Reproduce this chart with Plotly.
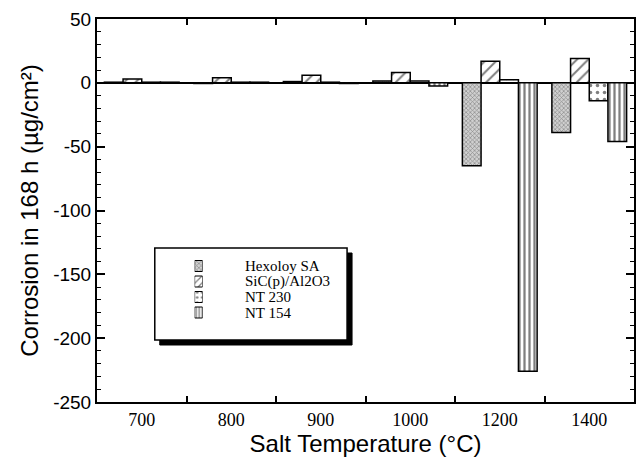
import plotly.graph_objects as go

# Salt temperatures (categories) and corrosion after 168 h (µg/cm²)
temperatures = ["700", "800", "900", "1000", "1200", "1400"]
hexoloy_sa = [0.5, -0.5, 1.0, 1.5, -65, -39]
sic_al2o3 = [3, 4, 6, 8, 17, 19]
nt_230 = [0.5, 0.5, 0.5, 1.5, 2.5, -14]
nt_154 = [0.5, 0.5, -0.5, -2.5, -226, -46]

series_names = ["Hexoloy SA", "SiC(p)/Al2O3", "NT 230", "NT 154"]
series_values = [hexoloy_sa, sic_al2o3, nt_230, nt_154]

y_ticks = [50, 0, -50, -100, -150, -200, -250]
y_tick_text = ["50", "0", "-50", "-100", "-150", "-200", "-250"]

W, H = 638, 459
L, R, T, B = 97, 636, 19, 402  # plot box in pixels

patterns = [
    dict(shape="x", size=3, solidity=0.4, fgcolor="#444444", bgcolor="#d0d0d0"),
    dict(shape="/", size=8, solidity=0.25, fgcolor="black", bgcolor="white"),
    dict(shape=".", size=7, solidity=0.2, fgcolor="black", bgcolor="white"),
    dict(shape="|", size=5, solidity=0.45, fgcolor="black", bgcolor="white"),
]
swatch_sizes = [3, 5, 5, 3]

fig = go.Figure()
for name, vals, pat in zip(series_names, series_values, patterns):
    fig.add_trace(go.Bar(
        x=temperatures, y=vals, name=name,
        marker=dict(color="white", pattern=pat,
                    line=dict(color="black", width=1.5)),
        showlegend=False,
    ))


def px_x(p):
    return (p - L) / (R - L)


def px_y(p):
    return (B - p) / (B - T)


# Hand-drawn key: shadowed box, pattern swatches and labels
box = dict(x0=155, x1=348, y0=248, y1=340)
shadow_off = 5
row_px = [266, 281.5, 297, 312.5]
sw_x0, sw_x1 = 195, 203
sw_h = 11
rows_top, rows_bot = 255, 322

fig.add_shape(type="rect", xref="paper", yref="paper", layer="below",
              x0=px_x(box["x0"] + shadow_off), x1=px_x(box["x1"] + shadow_off),
              y0=px_y(box["y1"] + shadow_off), y1=px_y(box["y0"] + shadow_off),
              fillcolor="black", line=dict(color="black", width=1))
fig.add_shape(type="rect", xref="paper", yref="paper", layer="below",
              x0=px_x(box["x0"]), x1=px_x(box["x1"]),
              y0=px_y(box["y1"]), y1=px_y(box["y0"]),
              fillcolor="white", line=dict(color="black", width=1.5))

for name, pat, ssz, ry in zip(series_names, patterns, swatch_sizes, row_px):
    fig.add_trace(go.Bar(
        x=[0], y=[sw_h], base=[(rows_bot - ry) - sw_h / 2],
        width=[1], offset=[-0.5],
        xaxis="x2", yaxis="y2", showlegend=False, hoverinfo="skip",
        marker=dict(color="white", pattern=dict(pat, size=ssz),
                    line=dict(color="black", width=1)),
    ))
    fig.add_annotation(x=px_x(244), y=px_y(ry), xref="paper", yref="paper",
                       text=name, showarrow=False, xanchor="left", yanchor="middle",
                       font=dict(family="Liberation Serif", size=15, color="black"))

fig.update_layout(
    width=W, height=H,
    margin=dict(l=L, r=W - R, t=T, b=H - B),
    paper_bgcolor="white", plot_bgcolor="white",
    barmode="group", bargap=0.165, bargroupgap=0,
    font=dict(family="Liberation Sans", color="black"),
    xaxis=dict(
        type="category", categoryorder="array", categoryarray=temperatures,
        tickson="boundaries", ticks="inside", ticklen=6, tickwidth=1.5,
        tickcolor="black", showline=True, linecolor="black", linewidth=2,
        mirror="allticks", showgrid=False,
        tickfont=dict(family="Liberation Serif", size=18),
        title=dict(text="Salt Temperature (°C)",
                   font=dict(family="Liberation Sans", size=24), standoff=6),
    ),
    yaxis=dict(
        range=[-250, 50], tickvals=y_ticks, ticktext=y_tick_text,
        ticks="inside", ticklen=8, tickwidth=1.5, tickcolor="black",
        minor=dict(dtick=10, ticks="inside", ticklen=4, tickwidth=1.2,
                   tickcolor="black", showgrid=False),
        showline=True, linecolor="black", linewidth=2, mirror="allticks",
        showgrid=False, zeroline=True, zerolinecolor="black", zerolinewidth=1.5,
        tickfont=dict(family="Liberation Sans", size=19),
        title=dict(text="Corrosion in 168 h (µg/cm²)",
                   font=dict(family="Liberation Sans", size=24), standoff=8),
    ),
    xaxis2=dict(domain=[px_x(sw_x0), px_x(sw_x1)], range=[-0.5, 0.5],
                anchor="y2", visible=False, fixedrange=True),
    yaxis2=dict(domain=[px_y(rows_bot), px_y(rows_top)],
                range=[0, rows_bot - rows_top],
                anchor="x2", visible=False, fixedrange=True),
)

fig.write_html("out.html")
